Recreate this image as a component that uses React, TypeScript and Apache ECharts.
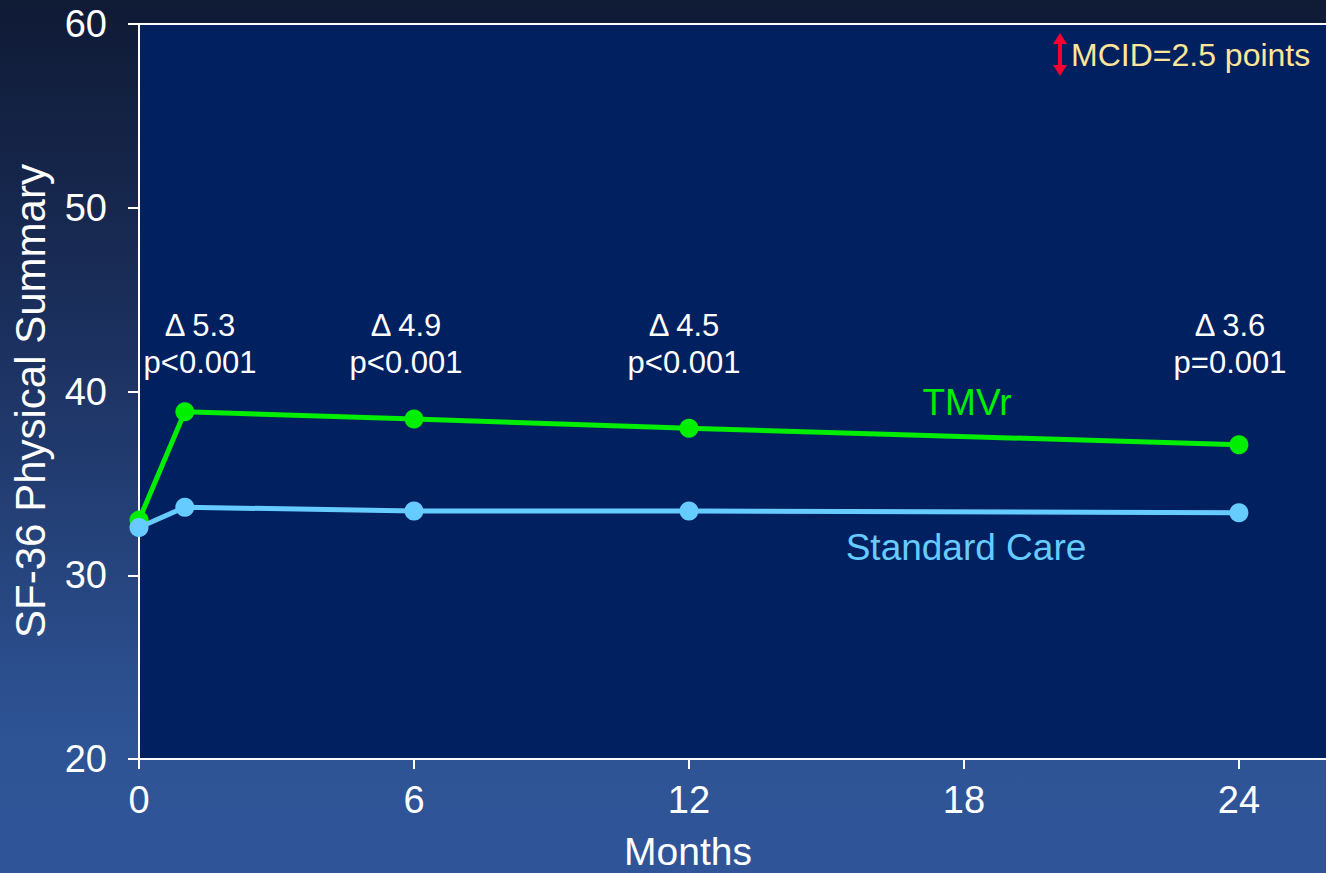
import React, { useEffect, useRef } from "react";
import * as echarts from "echarts";

const months = [0, 1, 6, 12, 24];
const tmvr = [33.0, 38.9, 38.5, 38.0, 37.1];
const standardCare = [32.6, 33.7, 33.5, 33.5, 33.4];
const xTicks = [0, 6, 12, 18, 24];
const deltaLabels = ["\u0394 5.3", "\u0394 4.9", "\u0394 4.5", "\u0394 3.6"];
const pLabels = ["p<0.001", "p<0.001", "p<0.001", "p=0.001"];
const annotationX = [200, 406, 684, 1230];

const FONT = "'Liberation Sans', Arial, Helvetica, sans-serif";
const GREEN = "#00ee00";
const BLUE = "#66ccff";

export default function App() {
  const ref = useRef<HTMLDivElement>(null);

  useEffect(() => {
    if (!ref.current) return;
    const chart = echarts.init(ref.current, undefined, { renderer: "svg" });

    const graphics: any[] = [];
    deltaLabels.forEach((d, i) => {
      graphics.push({
        type: "text",
        x: annotationX[i],
        y: 325,
        style: { text: d, fill: "#ffffff", font: `31px ${FONT}`, textAlign: "center", textVerticalAlign: "middle" },
      });
      graphics.push({
        type: "text",
        x: annotationX[i],
        y: 362,
        style: { text: pLabels[i], fill: "#ffffff", font: `31px ${FONT}`, textAlign: "center", textVerticalAlign: "middle" },
      });
    });
    graphics.push(
      {
        type: "text",
        x: 967,
        y: 402,
        style: { text: "TMVr", fill: GREEN, font: `37px ${FONT}`, textAlign: "center", textVerticalAlign: "middle" },
      },
      {
        type: "text",
        x: 966,
        y: 547,
        style: { text: "Standard Care", fill: BLUE, font: `37px ${FONT}`, textAlign: "center", textVerticalAlign: "middle" },
      },
      {
        type: "text",
        x: 1071,
        y: 55,
        style: { text: "MCID=2.5 points", fill: "#ffe699", font: `32px ${FONT}`, textAlign: "left", textVerticalAlign: "middle" },
      },
      { type: "rect", shape: { x: 1058, y: 42, width: 4, height: 25 }, style: { fill: "#f5002f" } },
      { type: "polygon", shape: { points: [[1060, 33], [1053, 44], [1067, 44]] }, style: { fill: "#f5002f" } },
      { type: "polygon", shape: { points: [[1060, 76], [1053, 65], [1067, 65]] }, style: { fill: "#f5002f" } },
      {
        type: "text",
        x: 30,
        y: 401,
        rotation: Math.PI / 2,
        style: { text: "SF-36 Physical Summary", fill: "#ffffff", font: `42px ${FONT}`, textAlign: "center", textVerticalAlign: "middle" },
      },
      {
        type: "text",
        x: 688,
        y: 851,
        style: { text: "Months", fill: "#ffffff", font: `39px ${FONT}`, textAlign: "center", textVerticalAlign: "middle" },
      }
    );

    chart.setOption({
      animation: false,
      backgroundColor: "transparent",
      grid: {
        left: 139,
        top: 24,
        right: 0,
        bottom: 114,
        show: true,
        backgroundColor: "#002060",
        borderWidth: 0,
      },
      xAxis: [
        {
          type: "value",
          min: 0,
          max: 25.9,
          interval: 6,
          axisLine: { show: true, onZero: false, lineStyle: { color: "#ffffff", width: 2 } },
          axisTick: { show: true, length: 10, inside: false, customValues: xTicks, lineStyle: { color: "#ffffff", width: 2 } },
          axisLabel: {
            color: "#ffffff",
            fontSize: 38,
            fontFamily: FONT,
            margin: 22,
            customValues: xTicks,
            formatter: (v: number) => String(v),
          },
          splitLine: { show: false },
        },
        {
          type: "value",
          position: "top",
          min: 0,
          max: 25.9,
          interval: 6,
          axisLine: { show: true, lineStyle: { color: "#ffffff", width: 2 } },
          axisTick: { show: false },
          axisLabel: { show: false },
          splitLine: { show: false },
        },
      ],
      yAxis: {
        type: "value",
        min: 20,
        max: 60,
        interval: 10,
        axisLine: { show: true, onZero: false, lineStyle: { color: "#ffffff", width: 2 } },
        axisTick: { show: true, length: 11, inside: false, lineStyle: { color: "#ffffff", width: 2 } },
        axisLabel: { color: "#ffffff", fontSize: 38, fontFamily: FONT, margin: 32 },
        splitLine: { show: false },
      },
      series: [
        {
          name: "TMVr",
          type: "line",
          data: months.map((m, i) => [m, tmvr[i]]),
          symbol: "circle",
          symbolSize: 19,
          lineStyle: { color: GREEN, width: 5 },
          itemStyle: { color: GREEN },
          z: 3,
        },
        {
          name: "Standard Care",
          type: "line",
          data: months.map((m, i) => [m, standardCare[i]]),
          symbol: "circle",
          symbolSize: 19,
          lineStyle: { color: BLUE, width: 5 },
          itemStyle: { color: BLUE },
          z: 4,
        },
      ],
      graphic: graphics,
    });

    return () => chart.dispose();
  }, []);

  return (
    <div
      style={{
        position: "fixed",
        left: 0,
        top: 0,
        width: 1326,
        height: 873,
        background: "linear-gradient(180deg, #0f1a35 0%, #1c3160 40%, #2e5496 85%, #2f5598 100%)",
      }}
    >
      <div ref={ref} style={{ width: 1326, height: 873 }} />
    </div>
  );
}
